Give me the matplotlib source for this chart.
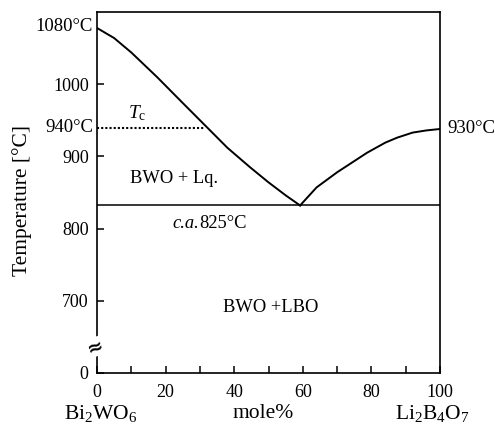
import numpy as np
import matplotlib
matplotlib.use('Agg')
from matplotlib import pyplot as plt

# liquidus, Bi2WO6 side
left_x = [0, 5, 10, 17.5, 25, 31.5, 38, 44.6, 50, 55, 59.2]
left_T = [1078, 1064, 1044, 1010, 974, 943, 912, 885, 864, 846, 832]
# liquidus, Li2B4O7 side
right_x = [59.2, 64, 70, 78.7, 84, 87.5, 92, 96, 100]
right_T = [832, 857, 878, 905, 919, 926, 933, 936, 938]

eutectic_T = 832
tc_T = 940
tc_x = 31.5

yticks = [600, 700, 800, 900, 1000]
ytick_labels = ['0', '700', '800', '900', '1000']
xticks = [0, 20, 40, 60, 80, 100]

plt.rcParams['font.family'] = 'Liberation Serif'
plt.rcParams['font.size'] = 13.3
plt.rcParams['mathtext.fontset'] = 'custom'
plt.rcParams['mathtext.rm'] = 'Liberation Serif'
plt.rcParams['mathtext.it'] = 'Liberation Serif:italic'

fig = plt.figure(figsize=(4.95, 4.33), dpi=100)
ax = fig.add_axes([0.196, 0.139, 0.693, 0.833])

ax.plot(left_x, left_T, color='black', lw=1.4)
ax.plot(right_x, right_T, color='black', lw=1.4)
ax.axhline(eutectic_T, color='black', lw=1.1)
ax.plot([0, tc_x], [tc_T, tc_T], color='black', lw=1.5, ls=(0, (1, 1)))

ax.set_xlim(0, 100)
ax.set_ylim(600, 1100)
ax.set_xticks(xticks)
ax.set_xticks(np.arange(0, 101, 10), minor=True)
ax.set_yticks(yticks)
ax.set_yticklabels(ytick_labels)
ax.tick_params(direction='in', length=5, width=1.1, pad=6, labelsize=13)
ax.tick_params(which='minor', direction='in', length=5, width=1.1)
ax.tick_params(axis='x', pad=8)
for s in ax.spines.values():
    s.set_linewidth(1.2)

ax.text(-1.2, 1080, '1080°C', ha='right', va='center', fontsize=13.5)
ax.text(-1.2, 940, '940°C', ha='right', va='center', fontsize=13.5)
ax.text(102, 938, '930°C', ha='left', va='center', fontsize=13.5)
ax.text(11.7, 960, r'$T_{\rm c}$', ha='center', va='center', fontsize=14)
ax.text(22.4, 869, 'BWO + Lq.', ha='center', va='center')
ax.text(29.8, 807, 'c.a.', ha='right', va='center', style='italic')
ax.text(29.8, 807, '825°C', ha='left', va='center')
ax.text(50.5, 690, 'BWO +LBO', ha='center', va='center')
ax.text(-0.5, 636, '≈', ha='center', va='center', rotation=20, fontsize=14,
        family='DejaVu Sans', fontweight='bold',
        bbox=dict(facecolor='white', edgecolor='none', pad=0.0))

ax.set_ylabel('Temperature [°C]', fontsize=15.5)
ax.yaxis.set_label_coords(-0.19, 0.479)
fig.text(0.204, 0.046, r'Bi$_2$WO$_6$', ha='center', va='center', fontsize=15.5)
fig.text(0.531, 0.046, 'mole%', ha='center', va='center', fontsize=15.5)
fig.text(0.873, 0.046, r'Li$_2$B$_4$O$_7$', ha='center', va='center', fontsize=15.5)

fig.savefig('out.png', dpi=100)
